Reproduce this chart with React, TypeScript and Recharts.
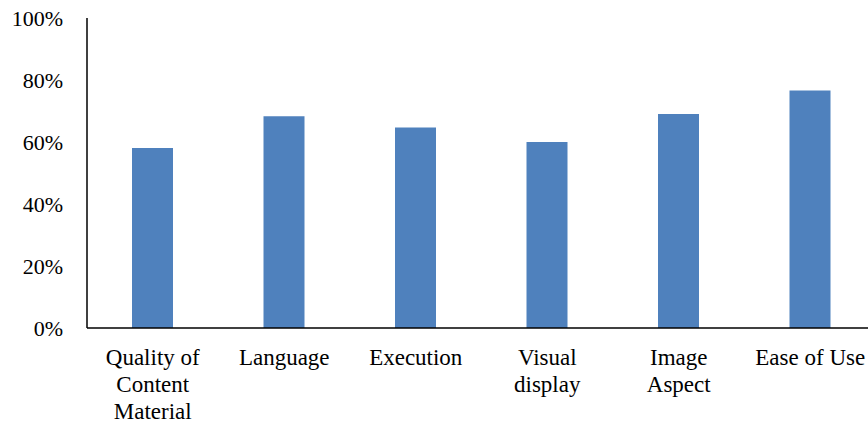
import React from "react";
import { Bar, BarChart, XAxis, YAxis } from "recharts";

// category labels, "\n" marks the line breaks used under the axis
const categories = [
  "Quality of\nContent\nMaterial",
  "Language",
  "Execution",
  "Visual\ndisplay",
  "Image\nAspect",
  "Ease of Use",
];
const scores = [0.581, 0.683, 0.647, 0.6, 0.69, 0.766];
const yTicks = [0, 0.2, 0.4, 0.6, 0.8, 1];

const data = categories.map((name, i) => ({ name, value: scores[i] }));

const FONT = '"Liberation Serif", "Times New Roman", serif';

function CategoryTick(props: any) {
  const { x, y, payload } = props;
  const lines = String(payload.value).split("\n");
  return (
    <text x={x} y={y + 37} textAnchor="middle" fill="#000" fontFamily={FONT} fontSize={23}>
      {lines.map((line, i) => (
        <tspan key={i} x={x} dy={i === 0 ? 0 : 27}>
          {line}
        </tspan>
      ))}
    </text>
  );
}

export default function App() {
  return (
    <div
      style={{
        position: "fixed",
        left: 0,
        top: 0,
        width: 868,
        height: 425,
        overflow: "hidden",
        background: "#fff",
      }}
    >
      <BarChart
        width={876}
        height={425}
        data={data}
        margin={{ top: 18, right: 0, bottom: 0, left: 0 }}
      >
        <XAxis
          dataKey="name"
          height={97}
          interval={0}
          tickLine={false}
          tickSize={0}
          tickMargin={0}
          axisLine={{ stroke: "#000", strokeWidth: 1.5 }}
          tick={<CategoryTick />}
        />
        <YAxis
          width={87}
          domain={[0, 1]}
          ticks={yTicks}
          interval={0}
          tickLine={false}
          tickSize={0}
          tickMargin={24}
          axisLine={{ stroke: "#000", strokeWidth: 1.5 }}
          tickFormatter={(v: number) => `${Math.round(v * 100)}%`}
          tick={{ fill: "#000", fontFamily: FONT, fontSize: 22 }}
        />
        <Bar dataKey="value" fill="#4F81BD" barSize={41} isAnimationActive={false} />
      </BarChart>
    </div>
  );
}
